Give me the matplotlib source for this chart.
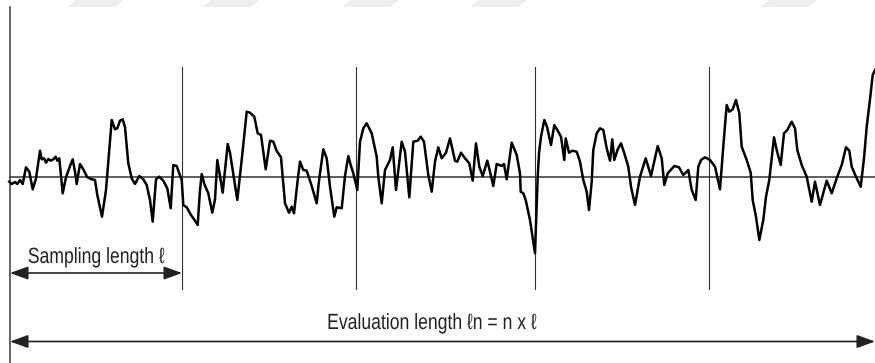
import matplotlib.pyplot as plt
from matplotlib.patches import Polygon, PathPatch
from matplotlib.textpath import TextPath
from matplotlib.font_manager import FontProperties
from matplotlib.transforms import Affine2D

# roughness profile: x position and height above the mean line
x = [9.3, 11.7, 15, 17.3, 20, 22.7, 26, 29.3, 32.7, 36, 40, 41.7, 44, 46, 48.3, 50.7, 53.3, 55.7, 57.3, 59.3,
     62.7, 66, 70, 72.7, 75, 76.7, 80, 83.3, 87.3, 91.7, 95, 97.3, 102, 106, 111.7, 115, 117.3, 120, 122.7, 125,
     128.3, 131.7, 135, 139.3, 143.3, 146.7, 150, 152.7, 156, 159.3, 163.3, 167.3, 170.7, 173.3, 176.7, 179,
     181.7, 183.3, 186.7, 191, 195, 197.7, 200, 201.7, 204.3, 208.3, 212.3, 215, 217.3, 220, 222.7, 225, 227.7,
     230, 233.3, 237.3, 241.7, 246.7, 250, 254.3, 257.7, 261, 265.7, 270, 273.3, 276.7, 281, 285, 289, 291.7,
     294, 297.7, 300, 303.3, 306.7, 311.7, 316.7, 319, 323.3, 326.7, 330, 334.3, 336.7, 341.7, 345, 348.3,
     350.7, 353.3, 357.3, 360, 363.3, 366.7, 371.7, 376.7, 378.3, 381.7, 385, 390, 392.7, 396, 401.7, 405,
     409.3, 413.3, 417.7, 420.7, 424, 428.3, 431.7, 435, 438.3, 441.7, 446, 450, 455, 457.3, 461, 465, 469.3,
     472.7, 476, 479.3, 482.7, 487.3, 490, 493.3, 496.7, 501.7, 504, 506.7, 511.7, 516.7, 520, 520.7, 523.3,
     525.7, 530, 535, 537.7, 539, 541, 544.3, 547, 551, 554.3, 558.3, 561, 564.3, 565.7, 569, 572.3, 576.7,
     580, 583.3, 586.7, 589, 591.7, 593.3, 596.7, 600, 603.3, 606.7, 610, 612.3, 614.3, 617.7, 621, 624.3,
     628.3, 631, 635, 640, 645.7, 651, 657.7, 661.7, 664.3, 667.7, 674.3, 679, 683.3, 688.3, 691.7, 695.7,
     698.3, 701, 705, 710, 715, 720, 721.7, 724, 726.7, 729.3, 732.7, 736, 739.3, 741.7, 746.7, 750.7, 752.7,
     756, 759.3, 763.3, 766, 769.3, 774, 776.7, 780.7, 784, 787.3, 791.7, 795, 797.3, 801.7, 806.7, 811.7,
     815, 820, 826.7, 831.7, 836.7, 841.7, 846, 849.3, 851.7, 856, 860.7, 864, 866.7, 870.7, 872.7, 875]
y = [-4.7, -7, -5, -7, -3, -7, 9.7, 5.3, -12.3, -1.3, 26.3, 17.7, 18.7, 14.3, 18, 16.3, 17.7, 20.3, 16.3, 18.7,
     -16.3, -0.3, 11, 17.7, 5.3, -7, 13, 7.7, -0.3, -2.3, -3, -18, -39.7, -13, 57, 47.7, 48.7, 56.3, 57.7, 49.7,
     13.7, -1.3, -7, 1, -2.3, -8, -23, -44.7, -2.3, 0.3, -3.7, -11.3, -31.3, 12, 11, 4.3,
     -3, -28, -30.3, -38, -43.7, -48, -13, 3, -7, -16.3, -35.7, -22.3, 17, 1, -15.7, 7, 33,
     24.3, 3, -23, 17, 65.3, 64.3, 60.3, 43.7, 42, 7.7, 36.3, 35.3, 26, 19.7, -26.3, -35.7, -29.7,
     -36.3, -3, 15.3, 7, 6.3, -9, -26.3, -3.7, 27.7, 18.7, -9.7, -39.7, -30.3, -31.3, 1, 21,
     12, 3.7, -13, 35.3, 48.7, 53.7, 43.7, 20.3, 0.3, -26.3, 7, 17, 29.7, -13, 35.3, 25.3,
     -20.3, 35.3, 36.3, 40.3, 35.3, 2, -14.7, 15.3, 29.7, 18.7, 24.3, 38.7, 16.3, 15.3, 24.3, 18.7, 13.7,
     -3.7, 33.7, 10.3, 1, 16.3, 5.3, -9, 13, 11, 13, -2.3, 34.3, 22, 3.7, -14.7, -16.3,
     -23, -43, -76.3, 0.3, 23.7, 40.3, 57, 50.3, 32, 52, 45.3, 40.3, 17, 38.7, 24.3, 26.3, 25.3,
     15.3, -3, -14.7, -33, -4.7, 27, 43.7, 48.7, 47, 28.7, 16.3, 37.7, 17, 27.7, 33.7, 23.7,
     10.3, -9.7, -28, 0.3, 18.7, 1, 31, 18.7, -8, 3.7, 11, 9.7, 2, 7, -13, -23,
     10.3, 17, 19.7, 17, 10.3, -12.3, 10.3, 39.7, 72, 65.3, 67.7, 77, 63.7, 30.3, 17, 4.3, -23,
     -39.7, -63, -43, -19.7, -3, 39.7, 27, 12, 43.7, 47, 55.3, 48.7, 27, 12, 0.3, -24.7,
     -4.7, -28, -3.7, -16.3, -1.3, 12, 29.7, 26.3, 10.3, 0.3, -9.7, 18.7, 50.3, 83.7, 102, 107]

# sampling length dividers
dividers = [182, 356, 535, 709]

sampling_label = 'Sampling length \u2113'
evaluation_label = 'Evaluation length \u2113n = n x \u2113'

# faint stripes along the top edge (left edge of each stripe)
stripes = [67, 202, 342, 470, 760]

fig = plt.figure(figsize=(8.75, 3.63), dpi=100)
ax = fig.add_axes([0, 0, 1, 1])
ax.set_xlim(0, 875)
ax.set_ylim(-186, 177)
ax.axis('off')

for s in stripes:
    ax.add_patch(Polygon([(s, 170), (s + 48, 170), (s + 57, 177), (s + 9, 177)],
                         closed=True, facecolor='#eeeeee', edgecolor='none'))

# frame lines
ax.plot([9.5, 9.5], [170, -186], color='#5a5a5a', lw=1.3)
for d in dividers:
    ax.plot([d, d], [110, -112], color='#333333', lw=0.8)
ax.plot([9.5, 875], [0, 0], color='#333333', lw=1.1)

# profile
ax.plot(x, y, color='black', lw=1.8, solid_joinstyle='round')

# length arrows
arrow = dict(arrowstyle='<|-|>,head_length=1.1,head_width=0.4', color='#222222',
             lw=1.2, shrinkA=0, shrinkB=0)
ax.annotate('', xy=(10, -96), xytext=(182, -96), arrowprops=arrow)
ax.annotate('', xy=(10, -164.5), xytext=(875, -164.5), arrowprops=arrow)


def narrow_text(s, cx, base, size=22, squeeze=0.8):
    """Draw a condensed label, centred on cx with its baseline at base."""
    fp = FontProperties(family=['Liberation Sans', 'DejaVu Sans'])
    tp = TextPath((0, 0), s, size=size, prop=fp)
    bb = tp.get_extents()
    tr = Affine2D().translate(-(bb.x0 + bb.x1) / 2, 0).scale(squeeze, 1).translate(cx, base)
    ax.add_patch(PathPatch(tr.transform_path(tp), facecolor='#222222',
                           edgecolor='none', lw=0))


narrow_text(sampling_label, 96.5, -86)
narrow_text(evaluation_label, 432.5, -152)

fig.savefig('out.png', dpi=100, facecolor='white')
